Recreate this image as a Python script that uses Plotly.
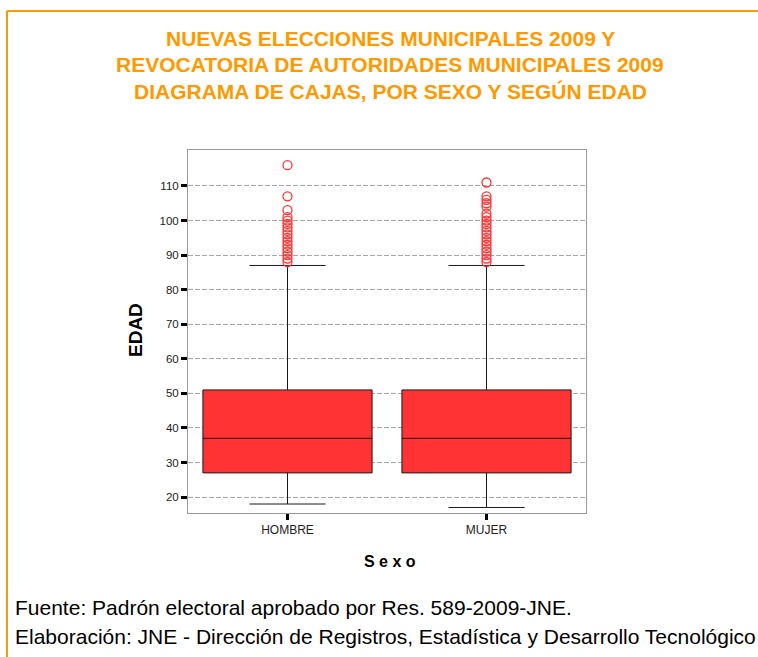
import plotly.graph_objects as go

# ---- data ----
categories = ["HOMBRE", "MUJER"]
q1 = [27, 27]
median = [37, 37]
q3 = [51, 51]
lower_fence = [18, 17]
upper_fence = [87, 87]
outliers_hombre = [88, 89, 90, 91, 92, 93, 94, 95, 96, 97, 98, 99, 100, 101, 103, 107, 116]
outliers_mujer = [88, 89, 90, 91, 92, 93, 94, 95, 96, 97, 98, 99, 100, 101, 102, 104, 105, 106, 107, 111]
y_ticks = [20, 30, 40, 50, 60, 70, 80, 90, 100, 110]

title_lines = [
    "NUEVAS ELECCIONES MUNICIPALES 2009 Y",
    "REVOCATORIA DE AUTORIDADES MUNICIPALES 2009",
    "DIAGRAMA DE CAJAS, POR SEXO Y SEGÚN EDAD",
]
footer_lines = [
    "Fuente: Padrón electoral aprobado por Res. 589-2009-JNE.",
    "Elaboración: JNE - Dirección de Registros, Estadística y Desarrollo Tecnológico",
]

W, H = 758, 657
L, R, T, B = 188, 586, 150, 513  # plot area in pixels


def px(x):
    return (x - L) / (R - L)


def py(y):
    return (B - y) / (B - T)


RED = "#FF3333"
ORANGE = "#FF9900"

fig = go.Figure()
fig.add_trace(go.Box(
    x=categories, q1=q1, median=median, q3=q3,
    lowerfence=lower_fence, upperfence=upper_fence,
    boxpoints=False, fillcolor=RED,
    line=dict(color="#1a1a1a", width=1),
    width=0.85, whiskerwidth=0.45, showlegend=False, hoverinfo="skip",
))
out_x = [categories[0]] * len(outliers_hombre) + [categories[1]] * len(outliers_mujer)
out_y = outliers_hombre + outliers_mujer
fig.add_trace(go.Scatter(
    x=out_x, y=out_y, mode="markers",
    marker=dict(symbol="circle-open", size=9, color=RED, line=dict(width=1.3, color=RED)),
    showlegend=False, hoverinfo="skip",
))

fig.update_layout(
    width=W, height=H,
    margin=dict(l=L, r=W - R, t=T, b=H - B, pad=0),
    paper_bgcolor="white", plot_bgcolor="white",
    font=dict(family="Liberation Sans, Arial", color="#222"),
    xaxis=dict(
        type="category", categoryorder="array", categoryarray=categories,
        range=[-0.5, 1.5],
        showline=True, linecolor="#999", linewidth=1, mirror=True,
        ticks="outside", ticklen=6, tickwidth=3, tickcolor="black",
        tickfont=dict(size=12, color="#222"), showgrid=False,
    ),
    yaxis=dict(
        range=[15.4, 120.4], tickvals=y_ticks,
        showline=True, linecolor="#999", linewidth=1, mirror=True,
        ticks="outside", ticklen=6, tickwidth=3, tickcolor="black",
        tickfont=dict(size=11.5, color="#222"),
        showgrid=True, gridcolor="#a8a8a8", gridwidth=1, griddash="5px,2px",
        zeroline=False,
    ),
)

annotations = []
for text, yc in zip(title_lines, [38, 65, 91]):
    annotations.append(dict(
        text="<b>" + text + "</b>", xref="paper", yref="paper",
        x=px(390), y=py(yc), xanchor="center", yanchor="middle", showarrow=False,
        font=dict(size=21, color=ORANGE, family="Liberation Sans, Arial"),
    ))
annotations.append(dict(
    text="<b>EDAD</b>", xref="paper", yref="paper", x=px(135), y=py(330),
    xanchor="center", yanchor="middle", textangle=-90, showarrow=False,
    font=dict(size=19, color="black"),
))
annotations.append(dict(
    text="<b>S e x o</b>", xref="paper", yref="paper", x=px(390), y=py(561),
    xanchor="center", yanchor="middle", showarrow=False,
    font=dict(size=16, color="black"),
))
for text, yc in zip(footer_lines, [607, 636]):
    annotations.append(dict(
        text=text, xref="paper", yref="paper", x=px(13), y=py(yc),
        xanchor="left", yanchor="middle", showarrow=False,
        font=dict(size=21, color="black"),
    ))
fig.update_layout(annotations=annotations)

# orange frame
fig.add_shape(type="line", xref="paper", yref="paper",
              x0=px(7), x1=px(7), y0=py(H + 5), y1=py(11),
              line=dict(color=ORANGE, width=2))
fig.add_shape(type="line", xref="paper", yref="paper",
              x0=px(7), x1=px(W + 5), y0=py(11), y1=py(11),
              line=dict(color=ORANGE, width=2))

fig.write_html(
    "out.html",
    config={"displayModeBar": False},
    post_script="document.body.style.margin='0';document.body.style.overflow='hidden';",
)
